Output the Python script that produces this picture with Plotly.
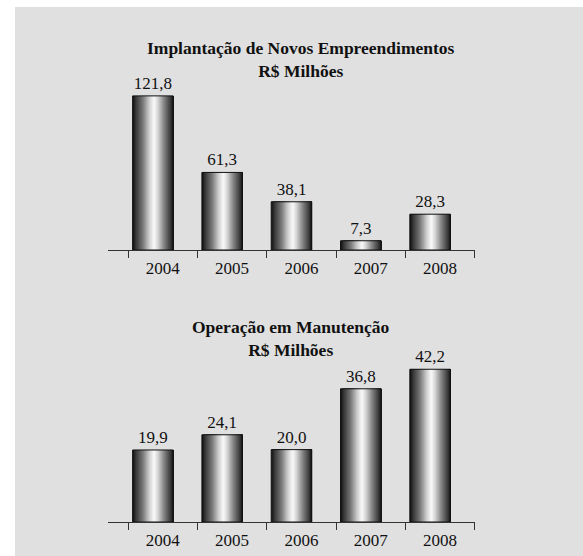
import plotly.graph_objects as go

# ---- data ----
years = ["2004", "2005", "2006", "2007", "2008"]
implantacao = [121.8, 61.3, 38.1, 7.3, 28.3]
manutencao = [19.9, 24.1, 20.0, 36.8, 42.2]
title_top = "Implantação de Novos Empreendimentos<br>R$ Milhões"
title_bottom = "Operação em Manutenção<br>R$ Milhões"

# ---- style ----
W_FIG, H_FIG = 583, 556
FONT = "Liberation Serif, Times New Roman, serif"
TXT = "#111111"
BG = "#e0e0e0"
BAR_W = 0.585
BAR_OFF = -0.435
N_STRIPS = 40
GRAD = [(0.0, 15), (0.08, 55), (0.25, 120), (0.42, 210), (0.53, 250),
        (0.62, 215), (0.77, 135), (0.90, 75), (1.0, 25)]


def grad_color(t):
    for (t0, g0), (t1, g1) in zip(GRAD[:-1], GRAD[1:]):
        if t0 <= t <= t1:
            g = g0 + (g1 - g0) * (t - t0) / (t1 - t0)
            g = int(round(g))
            return f"rgb({g},{g},{g})"
    g = GRAD[-1][1]
    return f"rgb({g},{g},{g})"


fig = go.Figure()


def add_bars(values, xa, ya):
    dw = BAR_W / N_STRIPS
    for k in range(N_STRIPS):
        fig.add_trace(go.Bar(
            x=years, y=values, xaxis=xa, yaxis=ya,
            offset=BAR_OFF + k * dw, width=BAR_W - k * dw,
            marker=dict(color=grad_color((k + 0.5) / N_STRIPS), line=dict(width=0)),
            hoverinfo="skip", showlegend=False,
        ))
    fig.add_trace(go.Bar(
        x=years, y=values, xaxis=xa, yaxis=ya,
        offset=BAR_OFF, width=BAR_W,
        marker=dict(color="rgba(0,0,0,0)", line=dict(color="#111111", width=1)),
        texttemplate="%{y:.1f}", textposition="outside",
        textfont=dict(family=FONT, size=17, color=TXT),
        constraintext="none", cliponaxis=False,
        hoverinfo="skip", showlegend=False,
    ))


add_bars(implantacao, "x", "y")
add_bars(manutencao, "x2", "y2")

xdom = [108 / W_FIG, 475 / W_FIG]
xcommon = dict(
    domain=xdom, type="category", range=[-0.79, 4.505],
    tickson="boundaries", ticks="outside", ticklen=7, tickcolor="#333333",
    showline=True, linecolor="#333333", linewidth=1, showgrid=False,
    tickfont=dict(family=FONT, size=17, color=TXT), zeroline=False,
    ticklabelstandoff=3,
)
ycommon = dict(visible=False, showgrid=False, zeroline=False)

fig.update_layout(
    width=W_FIG, height=H_FIG, autosize=False,
    margin=dict(l=0, r=0, t=0, b=0),
    paper_bgcolor="white", plot_bgcolor="rgba(0,0,0,0)",
    barmode="overlay", separators=",.",
    xaxis=dict(anchor="y", **xcommon),
    yaxis=dict(domain=[(H_FIG - 250) / H_FIG, (H_FIG - 85.5) / H_FIG],
               range=[0, 130], anchor="x", **ycommon),
    xaxis2=dict(anchor="y2", **xcommon),
    yaxis2=dict(domain=[(H_FIG - 522) / H_FIG, (H_FIG - 355.5) / H_FIG],
                range=[0, 46], anchor="x2", **ycommon),
    shapes=[dict(type="rect", xref="paper", yref="paper",
                 x0=15 / W_FIG, x1=1, y0=0, y1=(H_FIG - 7) / H_FIG,
                 fillcolor=BG, line=dict(width=0), layer="below")],
    annotations=[
        dict(text=title_top, xref="paper", yref="paper",
             x=301 / W_FIG, y=(H_FIG - 59) / H_FIG, xanchor="center", yanchor="middle",
             showarrow=False, font=dict(family=FONT, size=17.5, color=TXT, weight="bold")),
        dict(text=title_bottom, xref="paper", yref="paper",
             x=291 / W_FIG, y=(H_FIG - 338.5) / H_FIG, xanchor="center", yanchor="middle",
             showarrow=False, font=dict(family=FONT, size=17.5, color=TXT, weight="bold")),
    ],
)

fig.write_html("out.html", config={"displayModeBar": False},
               post_script="document.body.style.margin='0';document.body.style.overflow='hidden';")
